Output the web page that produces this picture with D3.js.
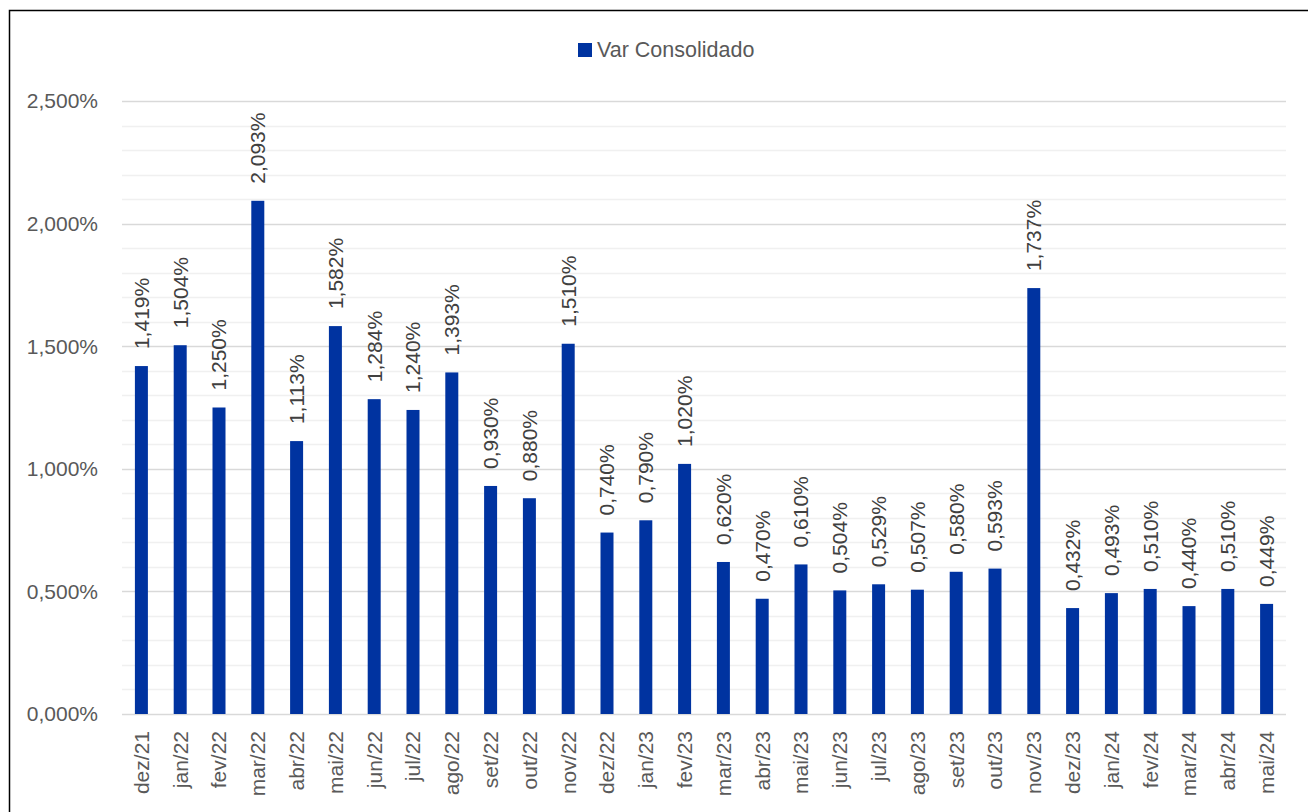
<!DOCTYPE html>
<html><head><meta charset="utf-8">
<script src="https://cdn.jsdelivr.net/npm/d3@7"></script>
<style>body{margin:0;background:#fff;}svg{display:block;font-family:"Liberation Sans",Arial,sans-serif;}</style>
</head><body>
<svg id="c" width="1308" height="812"></svg>
<script>
const categories = ["dez/21","jan/22","fev/22","mar/22","abr/22","mai/22","jun/22","jul/22","ago/22","set/22","out/22","nov/22","dez/22","jan/23","fev/23","mar/23","abr/23","mai/23","jun/23","jul/23","ago/23","set/23","out/23","nov/23","dez/23","jan/24","fev/24","mar/24","abr/24","mai/24"];
const values = [1.419,1.504,1.250,2.093,1.113,1.582,1.284,1.240,1.393,0.930,0.880,1.510,0.740,0.790,1.020,0.620,0.470,0.610,0.504,0.529,0.507,0.580,0.593,1.737,0.432,0.493,0.510,0.440,0.510,0.449];
const seriesName = "Var Consolidado";
const majorTicks = [0,0.5,1.0,1.5,2.0,2.5];
const minorTicks = [0.1,0.2,0.3,0.4,0.6,0.7,0.8,0.9,1.1,1.2,1.3,1.4,1.6,1.7,1.8,1.9,2.1,2.2,2.3,2.4];

(function(){
const svg = d3.select("#c");
const pLeft = 122, pRight = 1286, pTop = 101, pBottom = 714;
const color = "#0033A0";
const fmt = v => d3.format(".3f")(v).replace(".", ",") + "%";

// frame
svg.append("rect").attr("x",9.5).attr("y",10.5).attr("width",1300).attr("height",810)
  .attr("fill","none").attr("stroke","#000").attr("stroke-width",1.5);

const x = d3.scaleBand().domain(categories).range([pLeft,pRight]).paddingInner(0.665).paddingOuter(0.3325);
const y = d3.scaleLinear().domain([0,2.5]).range([pBottom,pTop]);

// minor grid
svg.append("g").selectAll("line").data(minorTicks).join("line")
  .attr("x1",pLeft).attr("x2",pRight).attr("y1",d=>Math.round(y(d))+0.5).attr("y2",d=>Math.round(y(d))+0.5)
  .attr("stroke","#f0f0f0").attr("stroke-width",1.5);
// major grid
svg.append("g").selectAll("line").data(majorTicks).join("line")
  .attr("x1",pLeft).attr("x2",pRight).attr("y1",d=>Math.round(y(d))+0.5).attr("y2",d=>Math.round(y(d))+0.5)
  .attr("stroke","#d9d9d9").attr("stroke-width",1.5);

// y labels
svg.append("g").selectAll("text").data(majorTicks).join("text")
  .attr("x",98).attr("y",d=>y(d)).attr("dy","0.35em").attr("text-anchor","end")
  .attr("font-size",21).attr("fill","#595959").text(d=>fmt(d));

// bars
svg.append("g").selectAll("rect").data(values).join("rect")
  .attr("x",(d,i)=>x(categories[i])).attr("width",x.bandwidth())
  .attr("y",d=>y(d)).attr("height",d=>pBottom-y(d)).attr("fill",color);

// data labels
svg.append("g").selectAll("text").data(values).join("text")
  .attr("transform",(d,i)=>`translate(${x(categories[i])+x.bandwidth()/2},${y(d)-17}) rotate(-90)`)
  .attr("dy","0.35em").attr("text-anchor","start")
  .attr("font-size",21).attr("fill","#404040").text(d=>fmt(d));

// category labels
svg.append("g").selectAll("text").data(categories).join("text")
  .attr("transform",d=>`translate(${x(d)+x.bandwidth()/2},${pBottom+17}) rotate(-90)`)
  .attr("dy","0.35em").attr("text-anchor","end")
  .attr("font-size",21).attr("fill","#595959").text(d=>d);

// legend
svg.append("rect").attr("x",578).attr("y",43).attr("width",14).attr("height",14).attr("fill",color);
svg.append("text").attr("x",597).attr("y",49).attr("dy","0.35em")
  .attr("font-size",21.5).attr("fill","#595959").text(seriesName);
})();
</script>
</body></html>
